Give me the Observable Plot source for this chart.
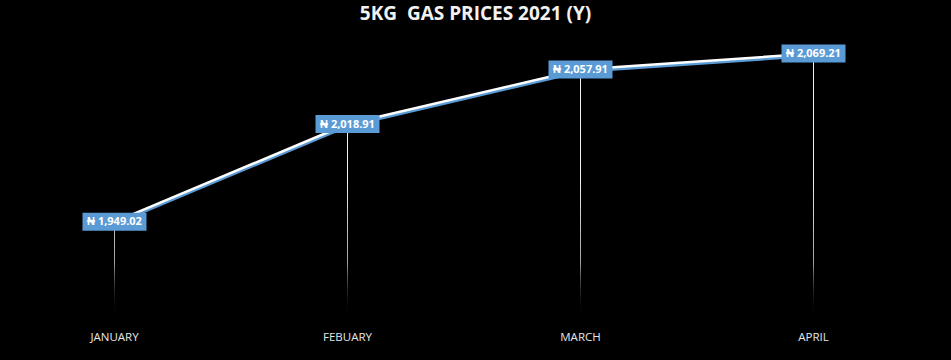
<!DOCTYPE html>
<html>
<head>
<meta charset="utf-8">
<script src="https://cdn.jsdelivr.net/npm/d3@7"></script>
<script src="https://cdn.jsdelivr.net/npm/@observablehq/plot@0.6"></script>
<style>
  html, body { margin: 0; padding: 0; background: #000; }
  #title { height: 28px; line-height: 26px; text-align: center; color: #f2f2f2;
           font-family: "Open Sans", sans-serif; font-weight: 700; font-size: 19px; white-space: pre; }
  #chart svg { display: block; }
</style>
</head>
<body>
<div id="title">5KG  GAS PRICES 2021 (Y)</div>
<div id="chart"></div>
<script>
const months = ["JANUARY", "FEBUARY", "MARCH", "APRIL"];
const prices = [1949.02, 2018.91, 2057.91, 2069.21];
const priceLabels = ["₦ 1,949.02", "₦ 2,018.91", "₦ 2,057.91", "₦ 2,069.21"];
const yDomain = [1880, 2080];

const data = months.map((m, i) => ({month: m, price: prices[i], label: priceLabels[i]}));

const boxSymbol = {
  draw(context, size) {
    context.rect(-32, -9, 64, 18);
  }
};

const defs = () => {
  const g = d3.create("svg:g");
  const lg = g.append("defs").append("linearGradient")
    .attr("id", "dropfade").attr("gradientUnits", "userSpaceOnUse")
    .attr("x1", 0).attr("x2", 0).attr("y1", 150).attr("y2", 290);
  lg.append("stop").attr("offset", "0%").attr("stop-color", "#ffffff").attr("stop-opacity", 0.95);
  lg.append("stop").attr("offset", "60%").attr("stop-color", "#bfbfbf").attr("stop-opacity", 0.85);
  lg.append("stop").attr("offset", "100%").attr("stop-color", "#000000").attr("stop-opacity", 0);
  return g.node();
};

const chart = Plot.plot({
  width: 951,
  height: 332,
  marginTop: 10,
  marginBottom: 42,
  marginLeft: 113,
  marginRight: 137,
  style: {background: "#000", color: "#d9d9d9", fontFamily: "'Open Sans', sans-serif"},
  x: {type: "point", domain: months, padding: 0, label: null},
  y: {domain: yDomain, axis: null},
  marks: [
    defs,
    Plot.ruleX(data, {x: "month", y1: "price", y2: yDomain[0], stroke: "url(#dropfade)", strokeWidth: 1}),
    Plot.line(data, {x: "month", y: "price", stroke: "#5b9bd5", strokeWidth: 3, dy: 2}),
    Plot.line(data, {x: "month", y: "price", stroke: "#ffffff", strokeWidth: 2.5}),
    Plot.dot(data, {x: "month", y: "price", symbol: boxSymbol, fill: "#5b9bd5", stroke: "none", r: 5}),
    Plot.text(data, {x: "month", y: "price", text: "label", fill: "#ffffff", fontWeight: 700, fontSize: 11}),
    Plot.axisX({tickSize: 0, tickPadding: 14, fontSize: 11.5, fill: "#e6e6e6", label: null})
  ]
});
document.getElementById("chart").appendChild(chart);
</script>
</body>
</html>
